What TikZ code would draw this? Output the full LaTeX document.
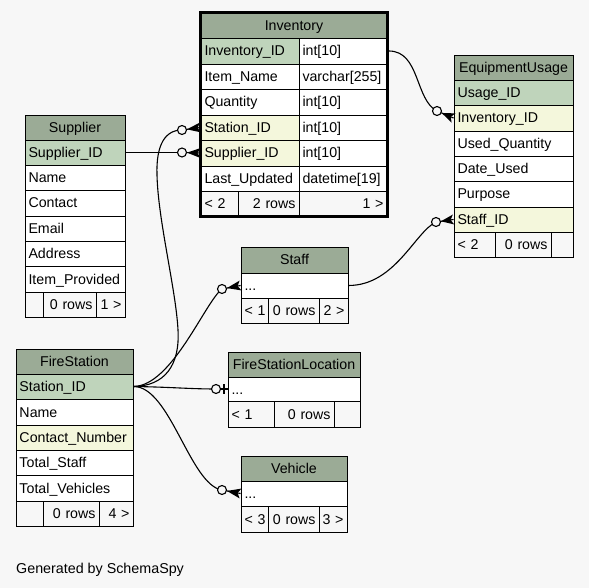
\documentclass[tikz,border=0pt]{standalone}
\usepackage{fontspec}
\setmainfont{Liberation Sans}
\usetikzlibrary{calc}

\definecolor{bgc}{HTML}{F7F7F7}
\definecolor{hdr}{HTML}{9BAB96}
\definecolor{pkc}{HTML}{BFD4BB}
\definecolor{fkc}{HTML}{F4F7DC}

\tikzset{
  cell/.style={draw=black, line width=0.9pt, inner xsep=3.5pt, inner ysep=0pt,
    text height=12pt, text depth=2pt, font=\fontsize{14.2}{16}\selectfont},
  link/.style={line width=1.1pt, draw=black},
  optend/.style={draw=black, line width=1.1pt, fill=bgc},
  caption/.style={inner sep=0pt, font=\fontsize{14.3}{16}\selectfont},
}

% one table cell: name, x1, y1, x2, y2, fill, alignment, text
\newcommand\tcell[8]{%
  \pgfmathsetmacro\cellw{#4-#2}%
  \pgfmathsetmacro\cellh{#5-#3}%
  \pgfmathsetmacro\celltw{#4-#2-7}%
  \node[cell, fill=#6, align=#7, minimum width=\cellw pt, minimum height=\cellh pt,
        text width=\celltw pt] (#1) at ({(#2+#4)/2},{(#3+#5)/2}) {\mbox{#8}};%
}

% crow's foot between the optional circle (centre #1) and the table edge #2
\newcommand\crowfoot[2]{%
  \draw[link] ($(#1)!4.5pt!(#2)$) -- (#2);
  \fill[black] ($(#1)!5pt!(#2)$) -- ($(#2)!5pt!90:(#1)$) -- ($(#2)!3pt!(#1)$)
     -- ($(#2)!5pt!-90:(#1)$) -- cycle;
  \draw[optend] (#1) circle (4.5pt);
}

\begin{document}
\begin{tikzpicture}[x=1pt, y=-1pt]
\fill[bgc] (0,0) rectangle (589,588);
\useasboundingbox (0,0) rectangle (589,588);

% ---------------- Inventory ----------------
\tcell{inv-h}{201}{13}{387}{38}{hdr}{center}{Inventory}
\tcell{inv-id}{201}{38}{299}{64}{pkc}{left}{Inventory\_ID}
\tcell{inv-idt}{299}{38}{387}{64}{white}{left}{int[10]}
\tcell{inv-nm}{201}{64}{299}{89}{white}{left}{Item\_Name}
\tcell{inv-nmt}{299}{64}{387}{89}{white}{left}{varchar[255]}
\tcell{inv-q}{201}{89}{299}{115}{white}{left}{Quantity}
\tcell{inv-qt}{299}{89}{387}{115}{white}{left}{int[10]}
\tcell{inv-st}{201}{115}{299}{140}{fkc}{left}{Station\_ID}
\tcell{inv-stt}{299}{115}{387}{140}{white}{left}{int[10]}
\tcell{inv-sup}{201}{140}{299}{166}{fkc}{left}{Supplier\_ID}
\tcell{inv-supt}{299}{140}{387}{166}{white}{left}{int[10]}
\tcell{inv-lu}{201}{166}{299}{191}{white}{left}{Last\_Updated}
\tcell{inv-lut}{299}{166}{387}{191}{white}{left}{datetime[19]}
\tcell{inv-f1}{201}{191}{238}{216}{bgc}{left}{< 2}
\tcell{inv-f2}{238}{191}{299}{216}{bgc}{right}{2 rows}
\tcell{inv-f3}{299}{191}{387}{216}{bgc}{right}{1 >}
\draw[line width=3pt] (inv-h.north west) rectangle (inv-f3.south east);

% ---------------- Supplier ----------------
\tcell{sup-h}{25}{115}{125}{140}{hdr}{center}{Supplier}
\tcell{sup-id}{25}{140}{125}{165}{pkc}{left}{Supplier\_ID}
\tcell{sup-nm}{25}{165}{125}{190}{white}{left}{Name}
\tcell{sup-ct}{25}{190}{125}{216}{white}{left}{Contact}
\tcell{sup-em}{25}{216}{125}{241}{white}{left}{Email}
\tcell{sup-ad}{25}{241}{125}{266}{white}{left}{Address}
\tcell{sup-ip}{25}{266}{125}{292}{white}{left}{Item\_Provided}
\tcell{sup-f1}{25}{292}{43}{317}{bgc}{left}{}
\tcell{sup-f2}{43}{292}{96}{317}{bgc}{right}{0 rows}
\tcell{sup-f3}{96}{292}{125}{317}{bgc}{right}{1 >}

% ---------------- EquipmentUsage ----------------
\tcell{eu-h}{454}{55}{573}{80}{hdr}{center}{EquipmentUsage}
\tcell{eu-id}{454}{80}{573}{105}{pkc}{left}{Usage\_ID}
\tcell{eu-inv}{454}{105}{573}{131}{fkc}{left}{Inventory\_ID}
\tcell{eu-uq}{454}{131}{573}{156}{white}{left}{Used\_Quantity}
\tcell{eu-du}{454}{156}{573}{181}{white}{left}{Date\_Used}
\tcell{eu-pu}{454}{181}{573}{207}{white}{left}{Purpose}
\tcell{eu-st}{454}{207}{573}{232}{fkc}{left}{Staff\_ID}
\tcell{eu-f1}{454}{232}{495}{257}{bgc}{left}{< 2}
\tcell{eu-f2}{495}{232}{551}{257}{bgc}{right}{0 rows}
\tcell{eu-f3}{551}{232}{573}{257}{bgc}{right}{}

% ---------------- Staff ----------------
\tcell{staff-h}{241}{247}{348}{273}{hdr}{center}{Staff}
\tcell{staff-r}{241}{273}{348}{298}{white}{left}{...}
\tcell{staff-f1}{241}{298}{268}{323}{bgc}{left}{< 1}
\tcell{staff-f2}{268}{298}{319}{323}{bgc}{right}{0 rows}
\tcell{staff-f3}{319}{298}{348}{323}{bgc}{right}{2 >}

% ---------------- FireStation ----------------
\tcell{fs-h}{16}{349}{133}{374}{hdr}{center}{FireStation}
\tcell{fs-id}{16}{374}{133}{399}{pkc}{left}{Station\_ID}
\tcell{fs-nm}{16}{399}{133}{425}{white}{left}{Name}
\tcell{fs-cn}{16}{425}{133}{450}{fkc}{left}{Contact\_Number}
\tcell{fs-ts}{16}{450}{133}{475}{white}{left}{Total\_Staff}
\tcell{fs-tv}{16}{475}{133}{501}{white}{left}{Total\_Vehicles}
\tcell{fs-f1}{16}{501}{43}{526}{bgc}{left}{}
\tcell{fs-f2}{43}{501}{99}{526}{bgc}{right}{0 rows}
\tcell{fs-f3}{99}{501}{133}{526}{bgc}{right}{4 >}

% ---------------- FireStationLocation ----------------
\tcell{fsl-h}{228}{352}{360}{377}{hdr}{center}{FireStationLocation}
\tcell{fsl-r}{228}{377}{360}{401}{white}{left}{...}
\tcell{fsl-f1}{228}{401}{274}{427}{bgc}{left}{< 1}
\tcell{fsl-f2}{274}{401}{334}{427}{bgc}{right}{0 rows}
\tcell{fsl-f3}{334}{401}{360}{427}{bgc}{right}{}

% ---------------- Vehicle ----------------
\tcell{veh-h}{241}{456}{347}{481}{hdr}{center}{Vehicle}
\tcell{veh-r}{241}{481}{347}{506}{white}{left}{...}
\tcell{veh-f1}{241}{506}{268}{532}{bgc}{left}{< 3}
\tcell{veh-f2}{268}{506}{319}{532}{bgc}{right}{0 rows}
\tcell{veh-f3}{319}{506}{347}{532}{bgc}{right}{3 >}

% ---------------- relationship ends ----------------
\coordinate (c-invst) at (182,130);
\coordinate (c-invsup) at (182,152.5);
\coordinate (c-euinv) at (437,111);
\coordinate (c-eust) at (436,222);
\coordinate (c-staff) at (222,289);
\coordinate (c-fsl) at (216,389);
\coordinate (c-veh) at (222,490);

% ---------------- relationships ----------------
\draw[link] (fs-id.east) .. controls (165,386) and (180,365) .. (178,330)
  .. controls (176,290) and (158,220) .. (157,175)
  .. controls (156,145) and (165,130) .. (c-invst);
\draw[link] (sup-id.east) -- (c-invsup);
\draw[link] (fs-id.east) .. controls (172,386) and (205,302) .. (c-staff);
\draw[link] (fs-id.east) .. controls (170,387) and (190,389) .. (c-fsl);
\draw[link] (fs-id.east) .. controls (170,386) and (190,485) .. (c-veh);
\draw[link] ([xshift=1.5pt]inv-idt.east) .. controls (420,51) and (415,100) .. (c-euinv);
\draw[link] (staff-r.east) .. controls (395,285.5) and (415,232) .. (c-eust);

\crowfoot{c-invst}{inv-st.west}
\crowfoot{c-invsup}{inv-sup.west}
\crowfoot{c-euinv}{eu-inv.west}
\crowfoot{c-eust}{eu-st.west}
\crowfoot{c-staff}{staff-r.west}
\crowfoot{c-veh}{veh-r.west}

% zero-or-one end at FireStationLocation
\draw[link] (c-fsl) -- (fsl-r.west);
\draw[line width=2.5pt] ($(c-fsl)+(8,-5)$) -- ($(c-fsl)+(8,5)$);
\draw[optend] (c-fsl) circle (4.5pt);

\node[caption, anchor=base west] (gen) at (16,573.3) {Generated by SchemaSpy};
\end{tikzpicture}
\end{document}
